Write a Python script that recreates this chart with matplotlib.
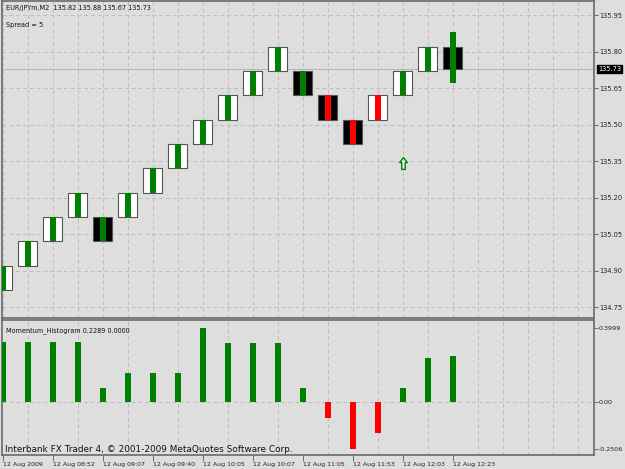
import matplotlib
matplotlib.use("Agg")
from matplotlib import pyplot as plt
from matplotlib.path import Path
import numpy as np

# Bricks (EUR/JPYm, M2)
opens = [134.82, 134.92, 135.02, 135.12, 135.12, 135.12, 135.22, 135.32, 135.42, 135.52,
         135.62, 135.72, 135.72, 135.62, 135.52, 135.52, 135.62, 135.72, 135.82]
closes = [134.92, 135.02, 135.12, 135.22, 135.02, 135.22, 135.32, 135.42, 135.52, 135.62,
          135.72, 135.82, 135.62, 135.52, 135.42, 135.62, 135.72, 135.82, 135.73]
highs = [max(o, c) for o, c in zip(opens, closes)]
lows = [min(o, c) for o, c in zip(opens, closes)]
highs[-1] = 135.88
lows[-1] = 135.67

# Momentum histogram values
momentum = [0.322, 0.322, 0.322, 0.322, 0.076, 0.159, 0.159, 0.159, 0.3999, 0.317,
            0.317, 0.317, 0.076, -0.085, -0.2506, -0.165, 0.076, 0.240, 0.249]

date_labels = ["12 Aug 2009", "12 Aug 08:52", "12 Aug 09:07", "12 Aug 09:40", "12 Aug 10:05",
               "12 Aug 10:07", "12 Aug 11:05", "12 Aug 11:53", "12 Aug 12:03", "12 Aug 12:23"]
price_ticks = [135.95, 135.80, 135.65, 135.50, 135.35, 135.20, 135.05, 134.90, 134.75]
hist_ticks = [0.3999, 0.0, -0.2506]
hist_tick_labels = ["0.3999", "0.00", "-0.2506"]

arrow_bar = [16]
arrow_price = [135.34]
last_price = 135.73

BG = '#dedede'
GRID = '#bdbdbd'
FRAME = '#6a6a6a'
GREEN = '#008000'
RED = '#ff0000'

x = np.arange(len(opens))
up = [c >= o for o, c in zip(opens, closes)]
wick_colors = [GREEN if m >= 0 else RED for m in momentum]

fig = plt.figure(figsize=(6.25, 4.69), dpi=100, facecolor=BG)
ax = fig.add_axes([0.0032, 0.322, 0.9464, 0.676], facecolor=BG)
ax2 = fig.add_axes([0.0032, 0.0299, 0.9464, 0.2868], facecolor=BG)

xlim = (-0.032, 23.63)

# price panel
ax.bar(x, np.array(closes) - np.array(opens), bottom=opens, width=0.76,
       color=['white' if u else 'black' for u in up], edgecolor='#555555', linewidth=0.8, zorder=3)
ax.bar(x, np.array(highs) - np.array(lows), bottom=lows, width=0.24,
       color=wick_colors, linewidth=0, zorder=4)
ax.axhline(last_price, color='#b8b8b8', linewidth=0.8, zorder=2)

arrow = Path([(0, 1), (0.64, 0.15), (0.3, 0.15), (0.3, -1), (-0.3, -1), (-0.3, 0.15),
              (-0.64, 0.15), (0, 1)],
             [Path.MOVETO] + [Path.LINETO] * 6 + [Path.CLOSEPOLY])
ax.plot(arrow_bar, arrow_price, linestyle='none', marker=arrow, markersize=8.5,
        markerfacecolor='#e6eee0', markeredgecolor=GREEN, markeredgewidth=1.0, zorder=5)

ax.set_xlim(*xlim)
ax.set_ylim(134.705, 136.008)
ax.set_yticks(price_ticks)
ax.set_yticklabels(["%.2f" % p for p in price_ticks])
ax.set_xticks([])
ax.set_xticks(np.arange(0, 24), minor=True)
ax.yaxis.tick_right()
ax.tick_params(axis='y', direction='out', length=3, width=0.7, color=FRAME,
               labelsize=4.8, pad=1, labelcolor='#222222')
ax.tick_params(axis='x', which='minor', length=0)
ax.grid(True, which='major', axis='y', linestyle=(0, (4, 3)), color=GRID, linewidth=0.7)
ax.grid(True, which='minor', axis='x', linestyle=(0, (4, 3)), color=GRID, linewidth=0.7)
ax.set_axisbelow(True)

ax.text(0.006, 0.987, "EUR/JPYm,M2  135.82 135.88 135.67 135.73", transform=ax.transAxes,
        fontsize=4.7, va='top', ha='left', color='#111111')
ax.text(0.006, 0.935, "Spread = 5", transform=ax.transAxes,
        fontsize=4.7, va='top', ha='left', color='#111111')

ax.annotate("%.2f" % last_price, xy=(1.0, last_price), xycoords=('axes fraction', 'data'),
            xytext=(3.5, 0), textcoords='offset points', fontsize=4.8, color='white',
            va='center', ha='left', annotation_clip=False,
            bbox=dict(boxstyle='square,pad=0.15', facecolor='black', edgecolor='black'))

# momentum panel
ax2.bar(x, momentum, width=0.22, color=wick_colors, linewidth=0, zorder=3)
ax2.set_xlim(*xlim)
ax2.set_ylim(-0.2809, 0.4387)
ax2.set_yticks(hist_ticks)
ax2.set_yticklabels(hist_tick_labels)
ax2.yaxis.tick_right()
ax2.set_xticks(x[::2])
ax2.set_xticklabels(date_labels, ha='left')
ax2.set_xticks(np.arange(0, 24), minor=True)
ax2.tick_params(axis='y', direction='out', length=3, width=0.7, color=FRAME,
                labelsize=4.6, pad=1, labelcolor='#222222')
ax2.tick_params(axis='x', which='major', direction='out', length=4, width=0.7, color=FRAME,
                labelsize=4.5, pad=1, labelcolor='#222222')
ax2.tick_params(axis='x', which='minor', length=0)
ax2.grid(True, which='minor', axis='x', linestyle=(0, (4, 3)), color=GRID, linewidth=0.7)
ax2.axhline(0, linestyle=(0, (4, 3)), color=GRID, linewidth=0.7, zorder=1)
ax2.set_axisbelow(True)

ax2.text(0.006, 0.95, "Momentum_Histogram 0.2289 0.0000", transform=ax2.transAxes,
         fontsize=4.7, va='top', ha='left', color='#111111')
ax2.text(0.005, 0.01, "Interbank FX Trader 4, \u00a9 2001-2009 MetaQuotes Software Corp.",
         transform=ax2.transAxes, fontsize=6.4, va='bottom', ha='left', color='#111111')

for a in (ax, ax2):
    for s in a.spines.values():
        s.set_color(FRAME)
        s.set_linewidth(1.2)

fig.savefig('out.png', dpi=100, facecolor=BG)
